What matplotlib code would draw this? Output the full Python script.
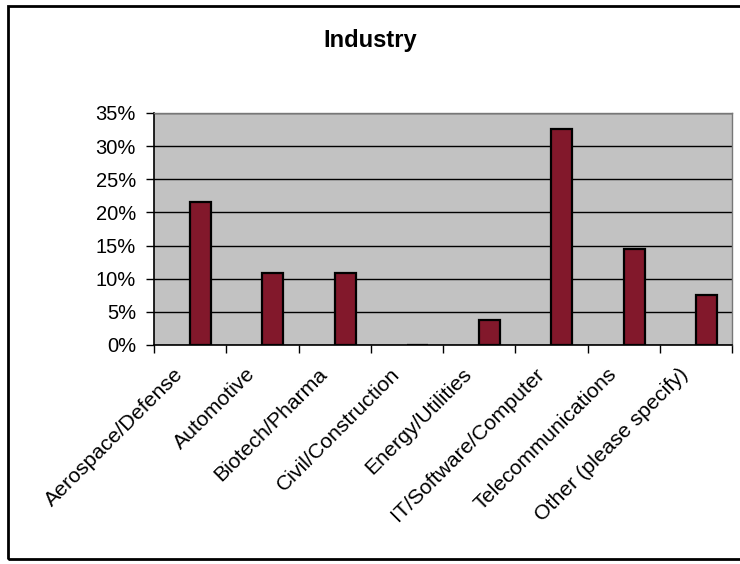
import matplotlib
matplotlib.use("Agg")
import matplotlib.pyplot as plt
import matplotlib.transforms as mtransforms
from matplotlib.patches import Rectangle
from matplotlib.ticker import FuncFormatter, FixedLocator
import numpy as np

categories = [
    "Aerospace/Defense", "Automotive", "Biotech/Pharma", "Civil/Construction",
    "Energy/Utilities", "IT/Software/Computer", "Telecommunications",
    "Other (please specify)",
]
shares = [21.5, 10.9, 10.9, 0.0, 3.8, 32.6, 14.5, 7.6]  # percent
yticks = [0, 5, 10, 15, 20, 25, 30, 35]
title = "Industry"

plt.rcParams["font.family"] = ["Liberation Sans", "DejaVu Sans"]

fig = plt.figure(figsize=(7.4, 5.64), dpi=100)
ax = fig.add_axes([154 / 740, 1 - 345 / 564, (732 - 154) / 740, (345 - 113) / 564])

# outer chart frame (right side runs off the page, as in the scan)
fig.patches.append(Rectangle((8 / 740, 1 - 559 / 564), 1.0, (559 - 6) / 564,
                             transform=fig.transFigure, fill=False,
                             edgecolor="black", lw=2.0, clip_on=False))

x = np.arange(len(categories))
w = 0.29
ax.bar(x + 0.5 + w / 2, shares, width=w, color="#82182b",
       edgecolor="black", lw=1.6, zorder=3)

ax.set_facecolor("#c2c2c2")
ax.set_xlim(0, len(categories))
ax.set_ylim(0, 35)
ax.yaxis.set_major_locator(FixedLocator(yticks))
ax.yaxis.set_major_formatter(FuncFormatter(lambda v, _: f"{v:.0f}%"))
ax.grid(axis="y", color="black", lw=1.0, zorder=1)

# ticks at category boundaries, labels at category centres
ax.set_xticks(np.arange(len(categories) + 1))
ax.set_xticklabels([])
ax.set_xticks(x + 0.5, minor=True)
ax.set_xticklabels(categories, minor=True, rotation=45, ha="right", va="top",
                   rotation_mode="anchor", fontsize=15.3)
ax.tick_params(axis="x", which="minor", length=0, pad=14)
ax.tick_params(axis="x", which="major", length=6, width=1, color="black")
ax.tick_params(axis="y", length=6, width=1, labelsize=14.5, pad=7)

# nudge rotated labels a little left of the category centre
shift = mtransforms.ScaledTranslation(-17 / 100, 0, fig.dpi_scale_trans)
for lab in ax.get_xticklabels(minor=True):
    lab.set_transform(lab.get_transform() + shift)

for side in ("top", "right"):
    ax.spines[side].set_color("#777777")
    ax.spines[side].set_linewidth(1.0)
for side in ("left", "bottom"):
    ax.spines[side].set_color("black")
    ax.spines[side].set_linewidth(1.2)

fig.text(0.5, 1 - 41 / 564, title, ha="center", va="center",
         fontsize=17, fontweight="bold")

fig.savefig("out.png", dpi=100)
